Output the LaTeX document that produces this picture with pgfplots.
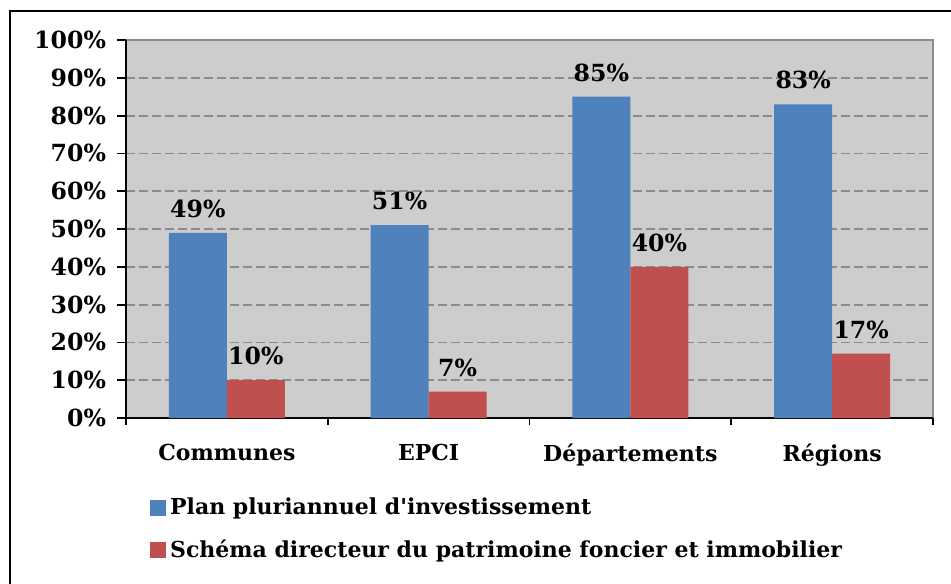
\documentclass[border=0pt]{standalone}
\usepackage{fontspec}
\setmainfont{DejaVu Serif}[Ligatures=TeXOff]
\usepackage{pgfplots}
\pgfplotsset{compat=1.18}
\definecolor{barblue}{RGB}{79,129,189}
\definecolor{barred}{RGB}{192,80,77}
\definecolor{plotbg}{RGB}{205,205,205}
\definecolor{gridgray}{RGB}{140,140,140}

\begin{document}
\begin{tikzpicture}
\path[use as bounding box] (0,0) rectangle (475.5pt,-291.5pt);
% outer frame (right and bottom edges fall outside the picture)
\draw[line width=1.3pt] (5pt,-300pt) -- (5pt,-5.6pt) -- (480pt,-5.6pt);
\begin{axis}[
    at={(63pt,-209pt)}, anchor=south west,
    scale only axis,
    width=403.5pt, height=189pt,
    font=\fontsize{11}{13}\selectfont\bfseries,
    /pgf/number format/assume math mode=true,
    axis x line*=bottom, axis y line*=left,
    axis line style={black, line width=0.9pt},
    axis background/.style={fill=plotbg, draw=gridgray, line width=0.9pt},
    xmin=-0.5, xmax=3.5,
    ymin=0, ymax=100,
    xtick={0,1,2,3},
    xticklabels={Communes,EPCI,Départements,Régions},
    minor xtick={-0.5,0.5,1.5,2.5,3.5},
    major x tick style={draw=none},
    minor x tick style={black, line width=0.9pt},
    minor tick length=3.5pt,
    ytick={0,10,...,100},
    yticklabels={0\%,10\%,20\%,30\%,40\%,50\%,60\%,70\%,80\%,90\%,100\%},
    yticklabel style={font=\fontsize{11.8}{13}\selectfont\bfseries, xshift=-2pt},
    major y tick style={black, line width=0.9pt},
    major tick length=4.5pt,
    tick align=outside,
    xticklabel style={yshift=-5pt},
    ymajorgrids=true,
    grid style={gridgray, line width=0.9pt, dash pattern=on 4.5pt off 2pt},
    ybar=0pt,
    bar width=0.2875,
    nodes near coords={\pgfmathprintnumber{\pgfplotspointmeta}\%},
    every node near coord/.append style={font=\fontsize{11.8}{13}\selectfont\bfseries, yshift=4pt},
    legend style={at={(0.022,-0.19)}, anchor=north west, draw=none, fill=none,
        font=\fontsize{11}{13}\selectfont\bfseries, row sep=7pt,
        legend cell align=left},
    legend image code/.code={\fill[#1] (0pt,-4pt) rectangle (8pt,4pt);},
    clip=false,
]
\addplot[fill=barblue, draw=none, bar shift=-0.14375] coordinates {(0,49) (1,51) (2,85) (3,83)};
\addplot[fill=barred, draw=none, bar shift=0.14375] coordinates {(0,10) (1,7) (2,40) (3,17)};
\legend{Plan pluriannuel d'investissement, Schéma directeur du patrimoine foncier et immobilier}
\end{axis}
\end{tikzpicture}
\end{document}
